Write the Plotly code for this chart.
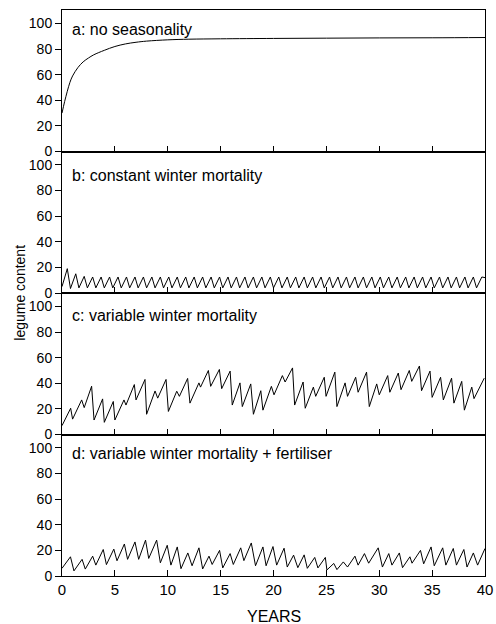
import plotly.graph_objects as go
from plotly.subplots import make_subplots

# ---- data ----
a_years = [0, 0.25, 0.5, 0.75, 1, 1.5, 2, 2.5, 3, 4, 5, 6, 7, 8, 10, 12, 15, 20, 25, 30, 35, 40]
a_values = [30, 39, 47, 54, 59, 65.5, 70, 73, 75.5, 79, 82, 84, 85.3, 86.2, 87.2, 87.7, 88, 88.3, 88.5, 88.7, 88.8, 89]

b_period = 0.8
b_peak_offset = 0.5
b_troughs = [5, 3.5, 4, 4, 4, 4, 4, 4, 4, 4, 4, 4, 4, 4, 4, 4, 4, 4, 4, 4,
             4, 4, 4, 4, 4, 4, 4, 4, 4, 4, 4, 4, 4, 4, 4, 4, 4, 4, 4, 4,
             4, 4, 4, 4, 4, 4, 4, 4, 4, 4]
b_peaks = [19, 15, 13, 12.5, 12.5, 12.5, 12.5, 12.5, 12.5, 12.5, 12.5, 12.5, 12.5, 12.5, 12.5, 12.5, 12.5, 12.5, 12.5, 12.5,
           12.5, 12.5, 12.5, 12.5, 12.5, 12.5, 12.5, 12.5, 12.5, 12.5, 12.5, 12.5, 12.5, 12.5, 12.5, 12.5, 12.5, 12.5, 12.5, 12.5,
           12.5, 12.5, 12.5, 12.5, 12.5, 12.5, 12.5, 12.5, 12.5, 12.5]
b_end = 12

c_years = [0, 0.82, 1.0, 1.86, 2.1, 2.8, 3.03, 3.84, 4.0, 4.85,
           5.0, 5.86, 6.05, 6.84, 7.0, 7.85, 8.0, 8.8, 9.05, 9.84,
           10.06, 10.85, 11.1, 11.88, 12.1, 12.95, 13.1, 13.84, 14.06, 14.88,
           15.1, 15.9, 16.1, 16.83, 17.05, 17.85, 18.1, 18.8, 19.0, 19.8,
           20.05, 20.84, 21.1, 21.8, 22.0, 22.8, 23.0, 23.77, 23.99, 24.8,
           24.97, 25.8, 26.0, 26.77, 27.0, 27.77, 28.0, 28.8, 29.06, 29.76,
           30.0, 30.8, 31.0, 31.8, 32.06, 32.84, 33.07, 33.8, 34.0, 34.8,
           35.0, 35.8, 36.06, 36.84, 37.06, 37.8, 38.05, 38.75, 38.96, 39.93]
c_values = [6.9, 20.5, 12, 27, 21, 37.7, 11.3, 27.8, 9.5, 25.8,
            11.3, 27, 23, 39, 27, 43, 15.8, 34, 28.4, 43,
            18, 33.8, 29.8, 43.8, 24.5, 40.3, 37, 50, 37.6, 50.8,
            35.8, 49.5, 23, 40.3, 21.8, 39.5, 15.8, 34.2, 19, 37.6,
            31, 46, 41, 52, 23, 41, 20.5, 37, 29.8, 44.7,
            29.8, 48.7, 21.8, 40.3, 29.8, 44.7, 33, 48.7, 21.8, 39.5,
            31, 46, 33, 48, 35, 50, 41.5, 53.5, 34.2, 49.5,
            29, 44.7, 27, 44, 24.5, 41.5, 19, 37, 28, 44]

d_years = [0, 0.8, 1.13, 1.9, 2.2, 2.9, 3.2, 3.9, 4.2, 4.9,
           5.2, 5.9, 6.2, 6.9, 7.25, 7.9, 8.2, 8.95, 9.3, 9.95,
           10.3, 10.9, 11.25, 11.9, 12.3, 12.95, 13.3, 13.9, 14.2, 14.9,
           15.2, 15.9, 16.2, 16.9, 17.2, 17.9, 18.3, 19.0, 19.3, 19.95,
           20.3, 21.0, 21.3, 21.9, 22.3, 22.9, 23.2, 23.9, 24.2, 24.9,
           25.05, 25.7, 26.0, 26.6, 27.0, 27.7, 28.0, 28.6, 29.0, 29.9,
           30.3, 30.9, 31.2, 31.9, 32.2, 32.9, 33.1, 33.9, 34.2, 34.9,
           35.2, 36.0, 36.3, 37.0, 37.3, 38.0, 38.3, 38.9, 39.3, 40]
d_values = [6, 15, 4, 13, 5.4, 15.5, 8.5, 20.7, 8.9, 21,
            11.9, 25, 13, 26.6, 13, 28, 13.7, 28, 10.3, 24,
            8.5, 22.7, 5.7, 18, 8, 22, 5.5, 15.5, 9, 20,
            6.3, 17.5, 9, 22, 12, 25.8, 8, 22.7, 8, 23,
            8.5, 21.7, 7, 16.3, 6.5, 16.5, 6, 14.5, 6.3, 14.5,
            4.7, 9.8, 5, 11, 7, 15.5, 8.5, 17.5, 10, 22,
            7, 17.5, 8.5, 18, 6.5, 15, 10, 20, 9.5, 22.7,
            8, 22, 8.5, 21.5, 8.5, 20.7, 7, 18, 8.5, 21.5]

panel_labels = ["a: no seasonality", "b: constant winter mortality",
                "c: variable winter mortality", "d: variable winter mortality + fertiliser"]
label_heights = [95, 92, 93, 96]
y_ticks = [0, 20, 40, 60, 80, 100]
x_ticks = [0, 5, 10, 15, 20, 25, 30, 35, 40]

# build panel b vertex list from its trough/peak readings
b_years, b_values = [], []
for i, (tr, pk) in enumerate(zip(b_troughs, b_peaks)):
    b_years += [i * b_period, i * b_period + b_peak_offset]
    b_values += [tr, pk]
b_years.append(40)
b_values.append(b_end)

FONT = "Liberation Sans, Arial, Helvetica, sans-serif"

fig = make_subplots(rows=4, cols=1, shared_xaxes=True, vertical_spacing=0)
series = [(a_years, a_values, "spline"), (b_years, b_values, "linear"),
          (c_years, c_values, "linear"), (d_years, d_values, "linear")]
for r, (xs, ys, shape) in enumerate(series, start=1):
    fig.add_trace(go.Scatter(x=xs, y=ys, mode="lines",
                             line=dict(color="black", width=1, shape=shape),
                             showlegend=False, hoverinfo="skip"), row=r, col=1)
    fig.add_annotation(x=0.75, y=label_heights[r - 1], xref=f"x{'' if r == 1 else r}",
                       yref=f"y{'' if r == 1 else r}", text=panel_labels[r - 1],
                       showarrow=False, xanchor="left", yanchor="middle",
                       font=dict(family=FONT, size=16, color="black"))
    fig.update_yaxes(row=r, col=1, range=[0, 110.5], tickvals=y_ticks,
                     ticks="outside", ticklen=6, tickwidth=1, tickcolor="black",
                     showline=True, linecolor="black", linewidth=1, mirror=True,
                     showgrid=False, zeroline=False, automargin=False,
                     tickfont=dict(family=FONT, size=14, color="black"))
    fig.update_xaxes(row=r, col=1, range=[0, 40], tickvals=x_ticks,
                     ticks="inside", ticklen=6, tickwidth=1, tickcolor="black",
                     showline=True, linecolor="black", linewidth=1, mirror=True,
                     showgrid=False, zeroline=False, automargin=False,
                     showticklabels=(r == 4),
                     tickfont=dict(family=FONT, size=15, color="black"))

fig.add_annotation(x=0.5, y=-0.0724, xref="paper", yref="paper", text="YEARS",
                   showarrow=False, xanchor="center", yanchor="middle",
                   font=dict(family=FONT, size=16, color="black"))
fig.add_annotation(x=-0.1, y=0.5, xref="paper", yref="paper", text="legume content",
                   textangle=-90, showarrow=False, xanchor="center", yanchor="middle",
                   font=dict(family=FONT, size=14, color="black"))

fig.update_layout(width=496, height=624, margin=dict(l=62, r=11, t=10, b=48),
                  paper_bgcolor="white", plot_bgcolor="white")

fig.write_html("out.html")
